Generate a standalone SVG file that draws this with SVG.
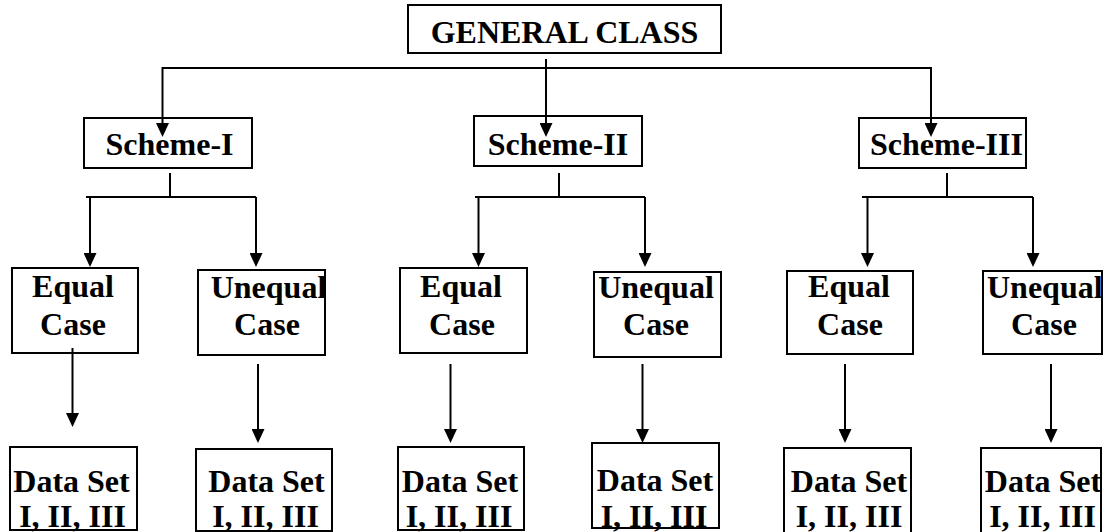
<svg xmlns="http://www.w3.org/2000/svg" width="1105" height="532" viewBox="0 0 1105 532">
<style>
.box{fill:#fff;stroke:#000;stroke-width:2}
text{font-family:'Liberation Serif','Times New Roman','DejaVu Serif',serif;font-weight:bold;font-size:32px;fill:#000;text-anchor:middle}
.c{fill:none;stroke:#000;stroke-width:2}
</style>
<defs>
<marker id="ah" viewBox="0 0 14 13" markerWidth="14" markerHeight="13" refX="8" refY="6.5" orient="auto" markerUnits="userSpaceOnUse">
<path d="M0,0 L14,6.5 L0,13 z" fill="#000"/>
</marker>
</defs>
<g id="n-general"><rect class="box" x="408" y="5" width="313" height="48"/><text x="564.5" y="43">GENERAL CLASS</text></g>
<g id="n-s1"><rect class="box" x="84" y="118" width="168" height="50"/><text x="169.5" y="155">Scheme-I</text></g>
<g id="n-s2"><rect class="box" x="474" y="116" width="168" height="50"/><text x="558" y="155">Scheme-II</text></g>
<g id="n-s3"><rect class="box" x="859" y="118" width="167" height="50"/><text x="946.5" y="155">Scheme-III</text></g>
<g id="n-e1"><rect class="box" x="12" y="268" width="126" height="85"/><text x="73" y="297">Equal</text><text x="73" y="335">Case</text></g>
<g id="n-u1"><rect class="box" x="198" y="270" width="127" height="85"/><text x="268.5" y="298">Unequal</text><text x="267" y="335">Case</text></g>
<g id="n-e2"><rect class="box" x="400" y="268" width="127" height="85"/><text x="461" y="297">Equal</text><text x="462" y="335">Case</text></g>
<g id="n-u2"><rect class="box" x="594" y="272" width="127" height="85"/><text x="656" y="298">Unequal</text><text x="656" y="335">Case</text></g>
<g id="n-e3"><rect class="box" x="787" y="271" width="126" height="83"/><text x="849" y="297">Equal</text><text x="850" y="335">Case</text></g>
<g id="n-u3"><rect class="box" x="983" y="271" width="119" height="83"/><text x="1044.8" y="298">Unequal</text><text x="1044" y="335">Case</text></g>
<g id="n-d1"><rect class="box" x="10" y="447" width="127" height="83"/><text x="71.5" y="491.5">Data Set</text><text x="72.5" y="527">I, II, III</text></g>
<g id="n-d2"><rect class="box" x="196" y="449" width="136" height="82"/><text x="266.5" y="491.5">Data Set</text><text x="265.5" y="527">I, II, III</text></g>
<g id="n-d3"><rect class="box" x="398" y="447" width="126" height="83"/><text x="460" y="491.5">Data Set</text><text x="459" y="527">I, II, III</text></g>
<g id="n-d4"><rect class="box" x="592" y="443" width="127" height="85"/><text x="655" y="491">Data Set</text><text x="654" y="527">I, II, III</text></g>
<g id="n-d5"><rect class="box" x="784" y="448" width="127" height="86"/><text x="849" y="491.5">Data Set</text><text x="849" y="527">I, II, III</text></g>
<g id="n-d6"><rect class="box" x="981" y="448" width="120" height="86"/><text x="1043" y="491.5">Data Set</text><text x="1042.5" y="527">I, II, III</text></g>
<g id="connectors">
<path class="c" d="M162.5,68 H931"/>
<path class="c" d="M546,59 V131" marker-end="url(#ah)"/>
<path class="c" d="M162.5,67 V131" marker-end="url(#ah)"/>
<path class="c" d="M931,67 V131" marker-end="url(#ah)"/>
<path class="c" d="M170,173 V197 M86,197 H256"/>
<path class="c" d="M90,197 V261" marker-end="url(#ah)"/>
<path class="c" d="M256,197 V261" marker-end="url(#ah)"/>
<path class="c" d="M559,173 V197 M475,197 H645"/>
<path class="c" d="M478.5,197 V261" marker-end="url(#ah)"/>
<path class="c" d="M645,197 V261" marker-end="url(#ah)"/>
<path class="c" d="M947,173 V197 M862,197 H1033"/>
<path class="c" d="M867.5,197 V261" marker-end="url(#ah)"/>
<path class="c" d="M1033,197 V261" marker-end="url(#ah)"/>
<path class="c" d="M72.5,348 V421" marker-end="url(#ah)"/>
<path class="c" d="M258,364 V437" marker-end="url(#ah)"/>
<path class="c" d="M450.5,364 V437" marker-end="url(#ah)"/>
<path class="c" d="M642.5,364 V437" marker-end="url(#ah)"/>
<path class="c" d="M845,364 V437" marker-end="url(#ah)"/>
<path class="c" d="M1051,364 V437" marker-end="url(#ah)"/>
</g>
</svg>
